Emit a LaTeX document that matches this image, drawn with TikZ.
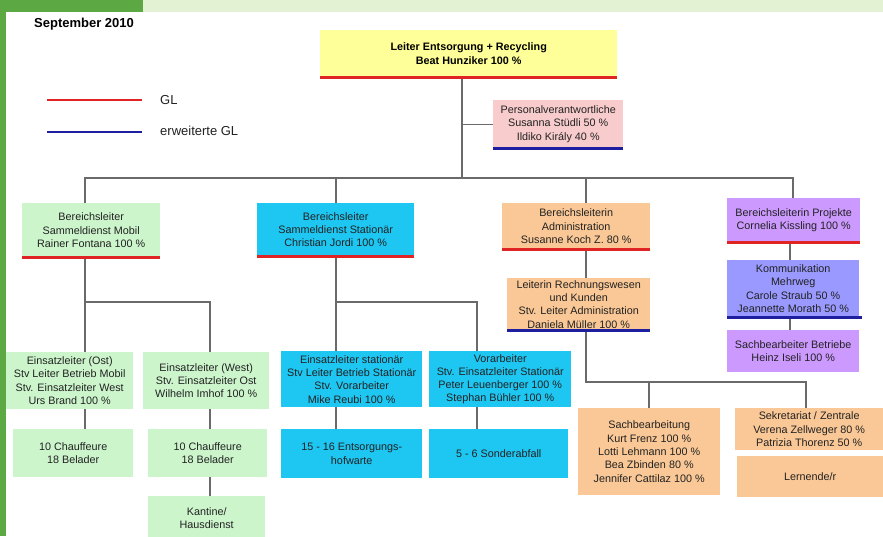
\documentclass[tikz,border=0pt]{standalone}
\usepackage{fontspec}
\setmainfont{Liberation Sans}
\definecolor{cyel}{HTML}{FFFF99}
\definecolor{cpink}{HTML}{F8CCCC}
\definecolor{cgrn}{HTML}{CCF5CC}
\definecolor{ccyan}{HTML}{1EC6F2}
\definecolor{corg}{HTML}{FAC896}
\definecolor{cpur}{HTML}{CC99FF}
\definecolor{cvio}{HTML}{9999FF}
\definecolor{glr}{HTML}{E02424}
\definecolor{glb}{HTML}{1E1EA0}
\definecolor{lnk}{HTML}{6A6A6A}
\definecolor{txt}{HTML}{222222}
\definecolor{bgdark}{HTML}{5CA842}
\definecolor{bglight}{HTML}{E4F2D4}
\begin{document}
\begin{tikzpicture}[x=1pt,y=-1pt,
  box/.style={anchor=north west, inner sep=0pt, align=center,
    font=\fontsize{10.8}{13.3}\selectfont, text=txt},
  conn/.style={draw=lnk, line width=1.4pt},
  glred/.style={draw=glr, line width=2.6pt},
  glblue/.style={draw=glb, line width=2.6pt},
  lbl/.style={anchor=west, inner sep=0pt, font=\fontsize{13}{15}\selectfont, text=txt}]
\useasboundingbox (0,0) rectangle (883,536);
\fill[white] (0,0) rectangle (883,536);

% legend and date
\node[anchor=base west, inner sep=0pt, font=\fontsize{13}{15}\selectfont\bfseries] (date) at (34,27) {September 2010};
\node[lbl] (lgl) at (160,100) {GL};
\node[lbl] (lerw) at (160,131) {erweiterte GL};
\draw[glred] (47,100) -- (142,100);
\draw[glblue] (47,132) -- (142,132);

% level 0/1
\node[box, fill=cyel, minimum width=297pt, minimum height=47pt, font=\fontsize{10.8}{14.5}\selectfont\bfseries, text=black] (top) at (320,30) {Leiter Entsorgung + Recycling\\Beat Hunziker 100 \%};
\node[box, fill=cpink, minimum width=130pt, minimum height=48pt] (pers) at (493,100) {Personalverantwortliche\\Susanna Stüdli 50 \%\\Ildiko Király 40 \%};

% level 2
\node[box, fill=cgrn, minimum width=138pt, minimum height=54pt] (mobil) at (22,203) {Bereichsleiter\\Sammeldienst Mobil\\Rainer Fontana 100 \%};
\node[box, fill=ccyan, minimum width=157pt, minimum height=53pt] (stat) at (257,203) {Bereichsleiter\\Sammeldienst Stationär\\Christian Jordi 100 \%};
\node[box, fill=corg, minimum width=148pt, minimum height=46pt] (admin) at (502,203) {Bereichsleiterin\\Administration\\Susanne Koch Z. 80 \%};
\node[box, fill=cpur, minimum width=133pt, minimum height=44pt] (proj) at (727,198) {Bereichsleiterin Projekte\\Cornelia Kissling 100 \%};

% right column
\node[box, fill=corg, minimum width=143pt, minimum height=52pt] (leit) at (507,278) {Leiterin Rechnungswesen\\und Kunden\\Stv. Leiter Administration\\Daniela Müller 100 \%};
\node[box, fill=cvio, minimum width=132pt, minimum height=57pt] (komm) at (727,260) {Kommunikation\\Mehrweg\\Carole Straub 50 \%\\Jeannette Morath 50 \%};
\node[box, fill=cpur, minimum width=132pt, minimum height=42pt] (sbb) at (727,330) {Sachbearbeiter Betriebe\\Heinz Iseli 100 \%};

% green level 3
\node[box, fill=cgrn, minimum width=127pt, minimum height=57pt] (ost) at (6,352) {Einsatzleiter (Ost)\\Stv Leiter Betrieb Mobil\\Stv. Einsatzleiter West\\Urs Brand 100 \%};
\node[box, fill=cgrn, minimum width=126pt, minimum height=57pt] (west) at (143,352) {Einsatzleiter (West)\\Stv. Einsatzleiter Ost\\Wilhelm Imhof 100 \%};
\node[box, fill=cgrn, minimum width=120pt, minimum height=48pt] (ch1) at (13,429) {10 Chauffeure\\18 Belader};
\node[box, fill=cgrn, minimum width=119pt, minimum height=48pt] (ch2) at (148,429) {10 Chauffeure\\18 Belader};
\node[box, fill=cgrn, minimum width=117pt, minimum height=44pt] (kant) at (148,496) {Kantine/\\Hausdienst};

% cyan level 3
\node[box, fill=ccyan, minimum width=141pt, minimum height=56pt] (elst) at (281,351) {Einsatzleiter stationär\\Stv Leiter Betrieb Stationär\\Stv. Vorarbeiter\\Mike Reubi 100 \%};
\node[box, fill=ccyan, minimum width=142pt, minimum height=56pt] (vora) at (429,351) {Vorarbeiter\\Stv. Einsatzleiter Stationär\\Peter Leuenberger 100 \%\\Stephan Bühler 100 \%};
\node[box, fill=ccyan, minimum width=141pt, minimum height=49pt] (e1516) at (281,429) {15 - 16 Entsorgungs-\\hofwarte};
\node[box, fill=ccyan, minimum width=139pt, minimum height=49pt] (sond) at (429,429) {5 - 6 Sonderabfall};

% orange level 3
\node[box, fill=corg, minimum width=142pt, minimum height=87pt] (sach) at (578,408) {Sachbearbeitung\\Kurt Frenz 100 \%\\Lotti Lehmann 100 \%\\Bea Zbinden 80 \%\\Jennifer Cattilaz 100 \%};
\node[box, fill=corg, minimum width=148pt, minimum height=42pt] (sekr) at (735,408) {Sekretariat / Zentrale\\Verena Zellweger 80 \%\\Patrizia Thorenz 50 \%};
\node[box, fill=corg, minimum width=146pt, minimum height=41pt] (lern) at (737,456) {Lernende/r};

% junction coordinates
\coordinate (t1) at (462,178);
\coordinate (b1) at (85,178);
\coordinate (b2) at (336,178);
\coordinate (b3) at (586,178);
\coordinate (b4) at (793,178);
\coordinate (m1) at (85,302);
\coordinate (m2) at (210,302);
\coordinate (s1) at (336,302);
\coordinate (s2) at (477,302);
\coordinate (a1) at (586,382);
\coordinate (a2) at (649,382);
\coordinate (a3) at (806,382);
\coordinate (p1) at (790,250);

% connectors
\draw[conn] (top.south -| t1) -- (t1);
\draw[conn] (t1 |- pers.west) -- (pers.west);
\draw[conn] (b1 |- mobil.north) -- (b1) -- (b4) -- (b4 |- proj.north);
\draw[conn] (b2) -- (b2 |- stat.north);
\draw[conn] (b3) -- (b3 |- admin.north);
\draw[conn] (m1 |- mobil.south) -- (m1 |- ost.north);
\draw[conn] (m1) -- (m2) -- (m2 |- west.north);
\draw[conn] (m1 |- ost.south) -- (m1 |- ch1.north);
\draw[conn] (m2 |- west.south) -- (m2 |- ch2.north);
\draw[conn] (m2 |- ch2.south) -- (m2 |- kant.north);
\draw[conn] (s1 |- stat.south) -- (s1 |- elst.north);
\draw[conn] (s1) -- (s2) -- (s2 |- vora.north);
\draw[conn] (s1 |- elst.south) -- (s1 |- e1516.north);
\draw[conn] (s2 |- vora.south) -- (s2 |- sond.north);
\draw[conn] (a1 |- admin.south) -- (a1 |- leit.north);
\draw[conn] (a1 |- leit.south) -- (a1) -- (a3) -- (a3 |- sekr.north);
\draw[conn] (a2) -- (a2 |- sach.north);
\draw[conn] (p1 |- proj.south) -- (p1 |- komm.north);
\draw[conn] (p1 |- komm.south) -- (p1 |- sbb.north);

% GL underlines
\draw[glred] (top.south west) -- (top.south east);
\draw[glred] (mobil.south west) -- (mobil.south east);
\draw[glred] (stat.south west) -- (stat.south east);
\draw[glred] (admin.south west) -- (admin.south east);
\draw[glred] (proj.south west) -- (proj.south east);
\draw[glblue] (pers.south west) -- (pers.south east);
\draw[glblue] (leit.south west) -- (leit.south east);
\draw[glblue] (komm.south west) -- ([xshift=3pt]komm.south east);

% frame
\fill[bglight] (143,0) rectangle (883,12);
\fill[bgdark] (0,0) rectangle (143,12);
\fill[bgdark] (0,0) rectangle (6,536);
\end{tikzpicture}
\end{document}
